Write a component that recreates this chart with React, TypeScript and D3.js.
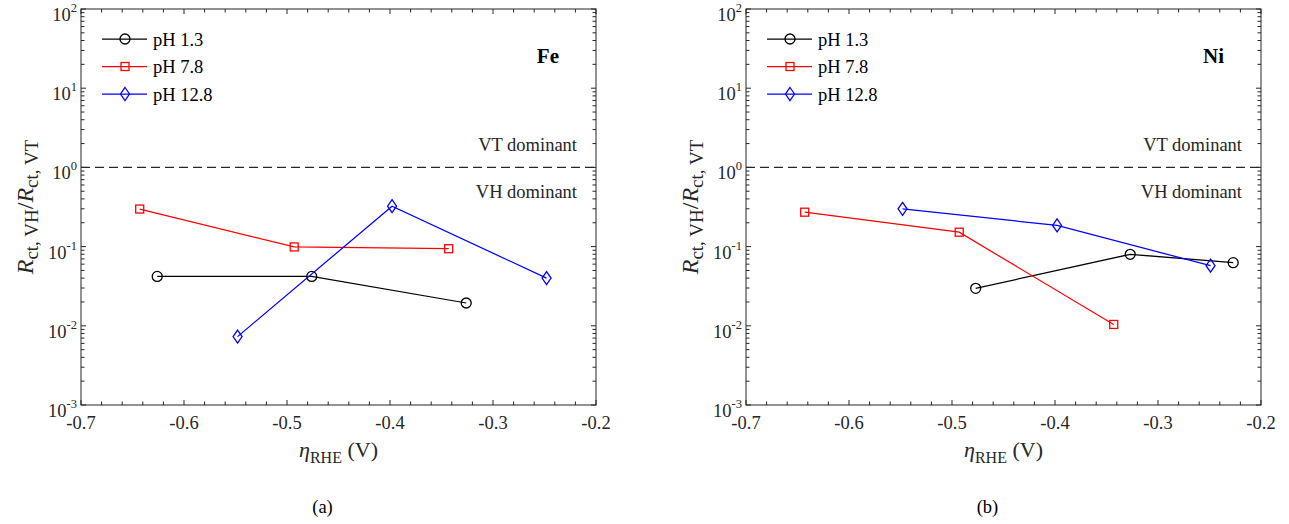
import React, { useEffect, useRef } from 'react';
import * as d3 from 'd3';

// series labels
const seriesNames = ['pH 1.3', 'pH 7.8', 'pH 12.8'];
const seriesColors = ['#000000', '#ff0000', '#0000ff'];
const seriesMarkers = ['circle', 'square', 'diamond'];

// (a) Fe
const feEta13 = [-0.626, -0.476, -0.326];
const feR13 = [0.042, 0.042, 0.0194];
const feEta78 = [-0.643, -0.493, -0.343];
const feR78 = [0.298, 0.099, 0.094];
const feEta128 = [-0.548, -0.398, -0.248];
const feR128 = [0.0073, 0.324, 0.04];

// (b) Ni
const niEta13 = [-0.477, -0.327, -0.227];
const niR13 = [0.0297, 0.08, 0.0627];
const niEta78 = [-0.643, -0.493, -0.343];
const niR78 = [0.272, 0.152, 0.0104];
const niEta128 = [-0.548, -0.398, -0.249];
const niR128 = [0.3, 0.185, 0.0574];

// axes
const xDomain = [-0.7, -0.2];
const xMajorTicks = [-0.7, -0.6, -0.5, -0.4, -0.3, -0.2];
const yDomain = [1e-3, 1e2];
const yDecades = [-3, -2, -1, 0, 1, 2];

const panels = [
  { metal: 'Fe', caption: '(a)', left: 81, eta: [feEta13, feEta78, feEta128], r: [feR13, feR78, feR128] },
  { metal: 'Ni', caption: '(b)', left: 746, eta: [niEta13, niEta78, niEta128], r: [niR13, niR78, niR128] },
];

const W = 515;
const TOP = 9;
const H = 396;
const AX = '#262626';
const FONT = '"Liberation Serif", "Times New Roman", serif';
const FS = 18.5;

const drawMarker = (g: any, kind: string, cx: number, cy: number, color: string) => {
  if (kind === 'circle') {
    g.append('circle').attr('cx', cx).attr('cy', cy).attr('r', 5)
      .attr('fill', 'none').attr('stroke', color).attr('stroke-width', 1.3);
  } else if (kind === 'square') {
    g.append('rect').attr('x', cx - 4).attr('y', cy - 4).attr('width', 8).attr('height', 8)
      .attr('fill', 'none').attr('stroke', color).attr('stroke-width', 1.3);
  } else {
    g.append('path')
      .attr('d', `M${cx},${cy - 6.5}L${cx + 4.5},${cy}L${cx},${cy + 6.5}L${cx - 4.5},${cy}Z`)
      .attr('fill', 'none').attr('stroke', color).attr('stroke-width', 1.3);
  }
};

const App: React.FC = () => {
  const svgRef = useRef<SVGSVGElement>(null);

  useEffect(() => {
    if (!svgRef.current) return;
    const svg = d3.select(svgRef.current);
    svg.selectAll('*').remove();

    panels.forEach((p) => {
      const x = d3.scaleLinear().domain(xDomain).range([p.left, p.left + W]);
      const y = d3.scaleLog().domain(yDomain).range([TOP + H, TOP]);
      const g = svg.append('g');

      // box
      g.append('rect').attr('x', p.left).attr('y', TOP).attr('width', W).attr('height', H)
        .attr('fill', 'none').attr('stroke', AX).attr('stroke-width', 1);

      // x ticks (major + minor), bottom and top, inward
      const xMinor = d3.range(0, 26).map((i) => -0.7 + i * 0.02);
      xMinor.forEach((v) => {
        const isMajor = xMajorTicks.some((m) => Math.abs(m - v) < 1e-6);
        const len = isMajor ? 5 : 3.5;
        const px = x(v);
        g.append('line').attr('x1', px).attr('x2', px).attr('y1', TOP + H).attr('y2', TOP + H - len).attr('stroke', AX);
        g.append('line').attr('x1', px).attr('x2', px).attr('y1', TOP).attr('y2', TOP + len).attr('stroke', AX);
      });
      xMajorTicks.forEach((v) => {
        g.append('text').attr('x', x(v)).attr('y', TOP + H + 24).attr('text-anchor', 'middle')
          .attr('font-family', FONT).attr('font-size', FS).attr('fill', AX)
          .text(v.toFixed(1));
      });

      // y ticks
      yDecades.forEach((d) => {
        const base = Math.pow(10, d);
        const py = y(base);
        g.append('line').attr('x1', p.left).attr('x2', p.left + 5).attr('y1', py).attr('y2', py).attr('stroke', AX);
        g.append('line').attr('x1', p.left + W).attr('x2', p.left + W - 5).attr('y1', py).attr('y2', py).attr('stroke', AX);
        if (d < 2) {
          d3.range(2, 10).forEach((k) => {
            const my = y(base * k);
            g.append('line').attr('x1', p.left).attr('x2', p.left + 3.5).attr('y1', my).attr('y2', my).attr('stroke', AX);
            g.append('line').attr('x1', p.left + W).attr('x2', p.left + W - 3.5).attr('y1', my).attr('y2', my).attr('stroke', AX);
          });
        }
        const t = g.append('text').attr('x', p.left - 4).attr('y', py + 12).attr('text-anchor', 'end')
          .attr('font-family', FONT).attr('font-size', FS).attr('fill', AX);
        t.append('tspan').text('10');
        t.append('tspan').attr('dy', -9).attr('font-size', 12.5).text(String(d));
      });

      // dashed unity line
      g.append('line').attr('x1', p.left).attr('x2', p.left + W).attr('y1', y(1)).attr('y2', y(1))
        .attr('stroke', AX).attr('stroke-width', 1.1).attr('stroke-dasharray', '9,5');
      g.append('text').attr('x', p.left + W - 19).attr('y', y(1) - 16).attr('text-anchor', 'end')
        .attr('font-family', FONT).attr('font-size', FS).attr('fill', AX).text('VT dominant');
      g.append('text').attr('x', p.left + W - 19).attr('y', y(1) + 31).attr('text-anchor', 'end')
        .attr('font-family', FONT).attr('font-size', FS).attr('fill', AX).text('VH dominant');

      // metal label
      g.append('text').attr('x', p.left + W - 37).attr('y', TOP + 54).attr('text-anchor', 'end')
        .attr('font-family', FONT).attr('font-size', 21).attr('font-weight', 'bold').attr('fill', '#000')
        .text(p.metal);

      // series
      const line = d3.line<[number, number]>().x((d) => x(d[0])).y((d) => y(d[1]));
      p.eta.forEach((etas, i) => {
        const pts: [number, number][] = etas.map((e, j) => [e, p.r[i][j]]);
        g.append('path').datum(pts).attr('fill', 'none').attr('stroke', seriesColors[i])
          .attr('stroke-width', 1.25).attr('d', line);
        pts.forEach((pt) => drawMarker(g, seriesMarkers[i], x(pt[0]), y(pt[1]), seriesColors[i]));
      });

      // legend
      seriesNames.forEach((name, i) => {
        const ly = TOP + 30 + i * 27.5;
        g.append('line').attr('x1', p.left + 21).attr('x2', p.left + 66).attr('y1', ly).attr('y2', ly)
          .attr('stroke', seriesColors[i]).attr('stroke-width', 1.25);
        drawMarker(g, seriesMarkers[i], p.left + 44, ly, seriesColors[i]);
        g.append('text').attr('x', p.left + 72).attr('y', ly + 6.5)
          .attr('font-family', FONT).attr('font-size', FS).attr('fill', '#000').text(name);
      });

      // x label
      const xl = g.append('text').attr('x', p.left + W / 2).attr('y', TOP + H + 52).attr('text-anchor', 'middle')
        .attr('font-family', FONT).attr('font-size', 22).attr('fill', AX);
      xl.append('tspan').attr('font-style', 'italic').text('η');
      xl.append('tspan').attr('font-size', 16).attr('dy', 6).text('RHE');
      xl.append('tspan').attr('dy', -6).text(' (V)');

      // y label
      const yl = g.append('text')
        .attr('transform', `translate(${p.left - 48},${TOP + H / 2}) rotate(-90)`)
        .attr('text-anchor', 'middle').attr('font-family', FONT).attr('font-size', 24).attr('fill', AX);
      yl.append('tspan').attr('font-style', 'italic').text('R');
      yl.append('tspan').attr('font-size', 19).attr('dy', 5).text('ct, VH');
      yl.append('tspan').attr('dy', -5).text('/');
      yl.append('tspan').attr('font-style', 'italic').text('R');
      yl.append('tspan').attr('font-size', 19).attr('dy', 5).text('ct, VT');

      // caption
      g.append('text').attr('x', p.left + W / 2 - 16).attr('y', 513).attr('text-anchor', 'middle')
        .attr('font-family', FONT).attr('font-size', FS).attr('fill', '#000').text(p.caption);
    });
  }, []);

  return (
    <svg ref={svgRef} width={1289} height={524}
      style={{ position: 'absolute', left: 0, top: 0, background: '#fff' }} />
  );
};

export default App;
